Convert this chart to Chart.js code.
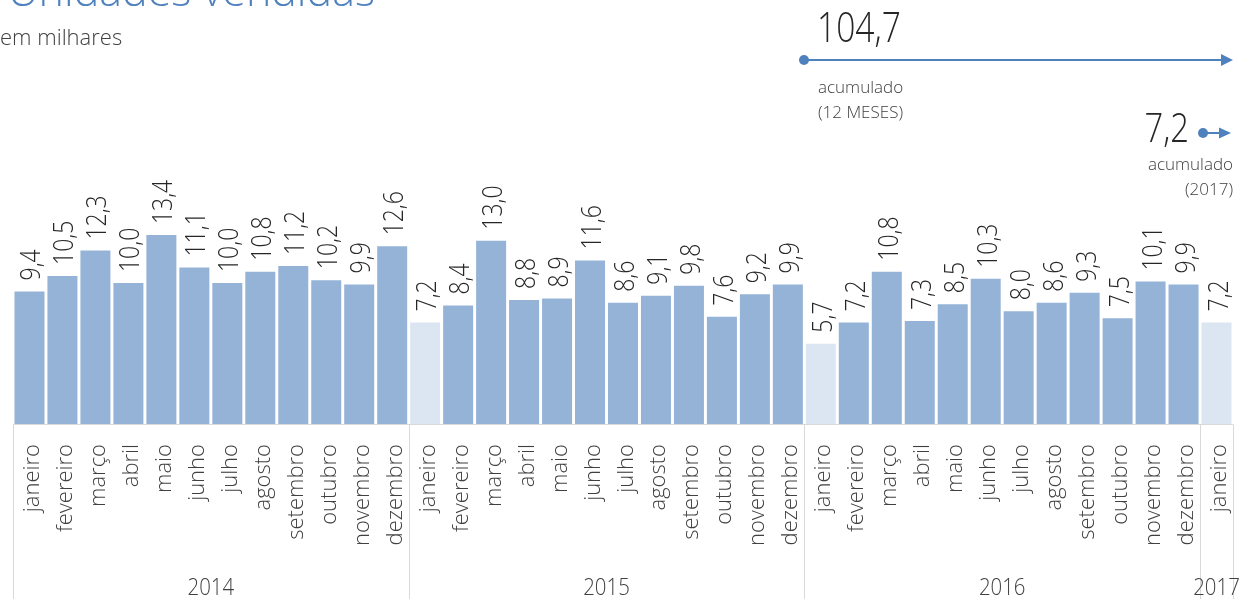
<!DOCTYPE html>
<html><head><meta charset="utf-8">
<script src="https://cdn.jsdelivr.net/npm/chart.js@4/dist/chart.umd.min.js"></script>
<style>html,body{margin:0;padding:0;background:#fff;overflow:hidden}canvas{display:block}</style>
</head><body>
<canvas id="c" width="1239" height="599"></canvas>
<script>
// ---- data ----
const anos = ["2014", "2015", "2016", "2017"];
const meses = ["janeiro","fevereiro","março","abril","maio","junho","julho","agosto","setembro","outubro","novembro","dezembro"];
const v2014 = [9.4, 10.5, 12.3, 10.0, 13.4, 11.1, 10.0, 10.8, 11.2, 10.2, 9.9, 12.6];
const v2015 = [7.2, 8.4, 13.0, 8.8, 8.9, 11.6, 8.6, 9.1, 9.8, 7.6, 9.2, 9.9];
const v2016 = [5.7, 7.2, 10.8, 7.3, 8.5, 10.3, 8.0, 8.6, 9.3, 7.5, 10.1, 9.9];
const v2017 = [7.2];
const titulo = "Unidades vendidas";
const subtitulo = "em milhares";
const acum12 = "104,7";
const acum12Rotulo = ["acumulado", "(12 MESES)"];
const acumAno = "7,2";
const acumAnoRotulo = ["acumulado", "(2017)"];

// ---- build ----
const series = [v2014, v2015, v2016, v2017];
const categorias = [], valores = [], anoIdx = [];
series.forEach((arr, k) => arr.forEach((v, i) => { categorias.push(meses[i]); valores.push(v); anoIdx.push(k); }));

const AZUL = '#95b3d7', CLARO = '#dce6f2', LINHA = '#4f81bd';
const FONT = '"Open Sans", "Segoe UI", sans-serif';

function txt(ctx, s, x, y, o) {
  ctx.save();
  ctx.translate(x, y);
  if (o.rot) ctx.rotate(o.rot);
  ctx.scale(o.sx || 1, 1);
  ctx.font = `${o.weight || 300} ${o.size}px ${FONT}`;
  ctx.fillStyle = o.color || '#404040';
  ctx.textAlign = o.align || 'left';
  ctx.textBaseline = 'alphabetic';
  ctx.fillText(s, 0, 0);
  ctx.restore();
}

const decor = {
  id: 'decor',
  afterDatasetsDraw(chart) {
    const ctx = chart.ctx;
    const xs = chart.scales.x;
    const ca = chart.chartArea;
    const meta = chart.getDatasetMeta(0);
    const step = xs.getPixelForValue(1) - xs.getPixelForValue(0);
    // value labels
    meta.data.forEach((bar, i) => {
      const s = valores[i].toFixed(1).replace('.', ',');
      txt(ctx, s, bar.x + 11, bar.y - 11, { size: 28, sx: 0.82, rot: -Math.PI / 2, color: '#262626' });
    });
    // axis frame
    const yAx = Math.round(ca.bottom) + 0.5;
    ctx.save();
    ctx.strokeStyle = '#d9d9d9';
    ctx.lineWidth = 1;
    ctx.beginPath();
    ctx.moveTo(ca.left, yAx); ctx.lineTo(ca.right, yAx);
    let start = 0;
    const bounds = [];
    series.forEach(arr => { bounds.push([start, start + arr.length - 1]); start += arr.length; });
    const edges = bounds.map(b => xs.getPixelForValue(b[0]) - step / 2);
    edges.push(xs.getPixelForValue(valores.length - 1) + step / 2);
    edges.forEach(x => { const xx = Math.round(x) + 0.5; ctx.moveTo(xx, yAx); ctx.lineTo(xx, 599); });
    ctx.stroke();
    ctx.restore();
    // month labels
    categorias.forEach((m, i) => {
      txt(ctx, m, xs.getPixelForValue(i) + 9.5, 444, { size: 22, rot: -Math.PI / 2, align: 'right', color: '#404040' });
    });
    // year labels
    bounds.forEach((b, k) => {
      const cx = (xs.getPixelForValue(b[0]) + xs.getPixelForValue(b[1])) / 2;
      txt(ctx, anos[k], cx, 595, { size: 24, sx: 0.85, align: 'center', color: '#404040' });
    });
    // title
    txt(ctx, titulo, 375, 6, { size: 43, align: 'right', color: LINHA });
    txt(ctx, subtitulo, 0, 45, { size: 22, color: '#404040' });
    // annotations
    txt(ctx, acum12, 817, 42, { size: 42, sx: 0.8, color: '#262626' });
    ctx.save();
    ctx.strokeStyle = LINHA; ctx.fillStyle = LINHA; ctx.lineWidth = 2;
    ctx.beginPath(); ctx.moveTo(804, 60); ctx.lineTo(1222, 60); ctx.stroke();
    ctx.beginPath(); ctx.arc(804, 60, 5, 0, Math.PI * 2); ctx.fill();
    ctx.beginPath(); ctx.moveTo(1221, 54); ctx.lineTo(1233, 60); ctx.lineTo(1221, 66); ctx.closePath(); ctx.fill();
    ctx.beginPath(); ctx.moveTo(1203, 133); ctx.lineTo(1220, 133); ctx.stroke();
    ctx.beginPath(); ctx.arc(1203, 133, 5, 0, Math.PI * 2); ctx.fill();
    ctx.beginPath(); ctx.moveTo(1219, 127.5); ctx.lineTo(1231, 133); ctx.lineTo(1219, 138.5); ctx.closePath(); ctx.fill();
    ctx.restore();
    txt(ctx, acum12Rotulo[0], 818, 93, { size: 17, color: '#404040' });
    txt(ctx, acum12Rotulo[1], 818, 118, { size: 17, color: '#404040' });
    txt(ctx, acumAno, 1189, 142, { size: 41, sx: 0.8, align: 'right', color: '#262626' });
    txt(ctx, acumAnoRotulo[0], 1233, 170, { size: 17, align: 'right', color: '#404040' });
    txt(ctx, acumAnoRotulo[1], 1233, 195, { size: 17, align: 'right', color: '#404040' });
  }
};

new Chart(document.getElementById('c'), {
  type: 'bar',
  data: {
    labels: categorias,
    datasets: [{
      data: valores,
      backgroundColor: c => (anoIdx[c.dataIndex] > 0 && categorias[c.dataIndex] === meses[0]) ? CLARO : AZUL,
      borderWidth: 0,
      barPercentage: 0.91,
      categoryPercentage: 1
    }]
  },
  options: {
    responsive: false,
    devicePixelRatio: 1,
    animation: false,
    layout: { padding: { left: 13, right: 6, top: 1, bottom: 175 } },
    plugins: { legend: { display: false }, tooltip: { enabled: false } },
    scales: {
      x: { display: false },
      y: { display: false, min: 0, max: 30 }
    }
  },
  plugins: [decor]
});
</script>
</body></html>
